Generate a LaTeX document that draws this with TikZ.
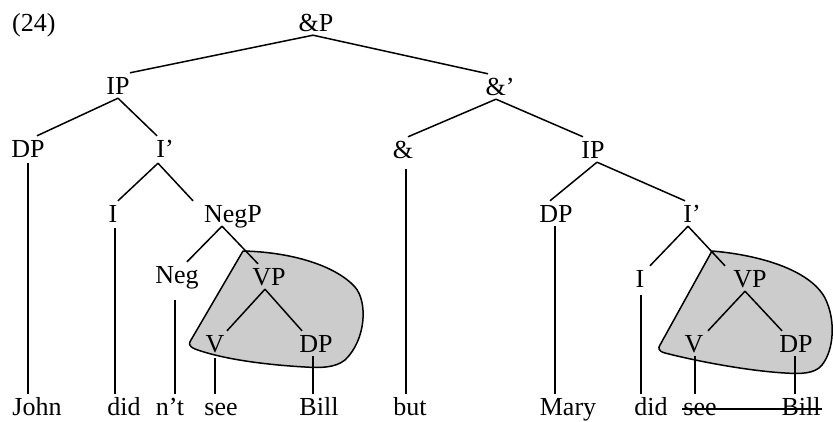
\documentclass[tikz,border=0pt]{standalone}
\usepackage{fontspec}
\setmainfont{Liberation Serif}
\begin{document}
\begin{tikzpicture}[x=1pt,y=-1pt,
  tn/.style={anchor=base, inner xsep=1pt, inner ysep=4pt,
             text height=17pt, text depth=0pt,
             font=\fontsize{26}{30}\selectfont},
  br/.style={line width=1.5pt},
  blob/.style={line width=1.5pt, fill=gray!40, line join=round}]
\useasboundingbox (0,0) rectangle (833,421);

% shaded VP regions (drawn first, behind the tree)
\draw[blob] (243,251) .. controls (290,252) and (335,265) .. (355,287)
  .. controls (368,302) and (366,340) .. (345,360)
  .. controls (335,368) and (320,368) .. (305,367)
  .. controls (270,365) and (225,360) .. (195,349)
  .. controls (188,346) and (189,343) .. (191,340) -- cycle;
\draw[blob] (712,251) .. controls (760,255) and (810,270) .. (825,298)
  .. controls (836,320) and (834,350) .. (822,365)
  .. controls (815,374) and (800,374) .. (785,373)
  .. controls (750,371) and (700,362) .. (665,353)
  .. controls (658,351) and (658,348) .. (660,345) -- cycle;

% example number
\node[tn, anchor=base west] (ex) at (11,31) {(24)};

% labels
\node[tn] (aP)   at (316,31)  {\&P};
\node[tn] (ipL)  at (118,94)  {IP};
\node[tn] (abar) at (500,95)  {\&’};
\node[tn] (dpL)  at (28,157)  {DP};
\node[tn] (ibL)  at (165,157) {I’};
\node[tn] (amp)  at (403,158) {\&};
\node[tn] (ipR)  at (593,158) {IP};
\node[tn] (iL)   at (113,222) {I};
\node[tn] (negP) at (233,222) {NegP};
\node[tn] (dpR)  at (556,222) {DP};
\node[tn] (ibR)  at (692,222) {I’};
\node[tn] (neg)  at (177,283) {Neg};
\node[tn] (vpL)  at (269,285) {VP};
\node[tn] (iR)   at (640,287) {I};
\node[tn] (vpR)  at (750,287) {VP};
\node[tn] (vL)   at (215,352) {V};
\node[tn] (dpLb) at (316,352) {DP};
\node[tn] (vR)   at (694,352) {V};
\node[tn] (dpRb) at (796,352) {DP};

% words
\node[tn] (john)  at (37,415)  {John};
\node[tn] (did1)  at (124,415) {did};
\node[tn] (nt)    at (170,415) {n’t};
\node[tn] (see1)  at (221,415) {see};
\node[tn] (bill1) at (319,415) {Bill};
\node[tn] (but)   at (410,415) {but};
\node[tn] (mary)  at (568,415) {Mary};
\node[tn] (did2)  at (651,415) {did};
\node[tn] (see2)  at (700,415) {see};
\node[tn] (bill2) at (801,415) {Bill};

% branches
\draw[br] ([xshift=-3pt]aP.south) -- ([xshift=12pt]ipL.north);
\draw[br] ([xshift=-3pt]aP.south) -- ([xshift=-12pt]abar.north);
\draw[br] (ipL.south) -- ([xshift=9pt]dpL.north);
\draw[br] (ipL.south) -- ([xshift=-8pt]ibL.north);
\draw[br] ([xshift=-4pt]abar.south) -- ([xshift=5pt]amp.north);
\draw[br] ([xshift=-4pt]abar.south) -- ([xshift=-10pt]ipR.north);
\draw[br] ([xshift=-7pt,yshift=-2pt]ibL.south) -- ([xshift=5pt]iL.north);
\draw[br] ([xshift=-7pt,yshift=-2pt]ibL.south) -- ([xshift=-40pt]negP.north);
\draw[br] ([xshift=4pt]ipR.south) -- ([xshift=-6pt]dpR.north);
\draw[br] ([xshift=4pt]ipR.south) -- ([xshift=-7pt]ibR.north);
\draw[br] ([xshift=-11pt]negP.south) -- ([xshift=10pt]neg.north);
\draw[br] ([xshift=-11pt]negP.south) -- ([xshift=-11pt]vpL.north);
\draw[br] ([xshift=-4pt]ibR.south) -- ([xshift=10pt]iR.north);
\draw[br] ([xshift=-4pt]ibR.south) -- ([xshift=-25pt]vpR.north);
\draw[br] ([xshift=-4pt]vpL.south) -- ([xshift=12pt]vL.north);
\draw[br] ([xshift=-4pt]vpL.south) -- ([xshift=-14pt]dpLb.north);
\draw[br] ([xshift=-5pt]vpR.south) -- ([xshift=14pt]vR.north);
\draw[br] ([xshift=-5pt]vpR.south) -- ([xshift=-14pt]dpRb.north);

% unary branches down to the words
\draw[br] ([yshift=-2pt]dpL.south) -- (dpL.south |- john.north);
\draw[br] ([xshift=2pt,yshift=-2pt]iL.south) -- ([xshift=2pt]iL.south |- did1.north);
\draw[br] ([xshift=3pt,yshift=-7pt]amp.south) -- ([xshift=3pt]amp.south |- but.north);
\draw[br] ([xshift=-1pt]dpR.south) -- ([xshift=-1pt]dpR.south |- mary.north);
\draw[br] ([xshift=-2pt,yshift=-13pt]neg.south) -- ([xshift=-2pt]neg.south |- nt.north);
\draw[br] ([xshift=1pt,yshift=-4pt]iR.south) -- ([xshift=1pt]iR.south |- did2.north);
\draw[br] ([yshift=-2pt]vL.south) -- (vL.south |- see1.north);
\draw[br] ([xshift=-3pt]dpLb.south) -- ([xshift=-3pt]dpLb.south |- bill1.north);
\draw[br] ([xshift=1pt]vR.south) -- ([xshift=1pt]vR.south |- see2.north);
\draw[br] ([xshift=-1pt]dpRb.south) -- ([xshift=-1pt]dpRb.south |- bill2.north);

% deleted copy struck through
\draw[br] ([yshift=6pt]see2.base west) -- ([yshift=6pt]bill2.base east);
\end{tikzpicture}
\end{document}
